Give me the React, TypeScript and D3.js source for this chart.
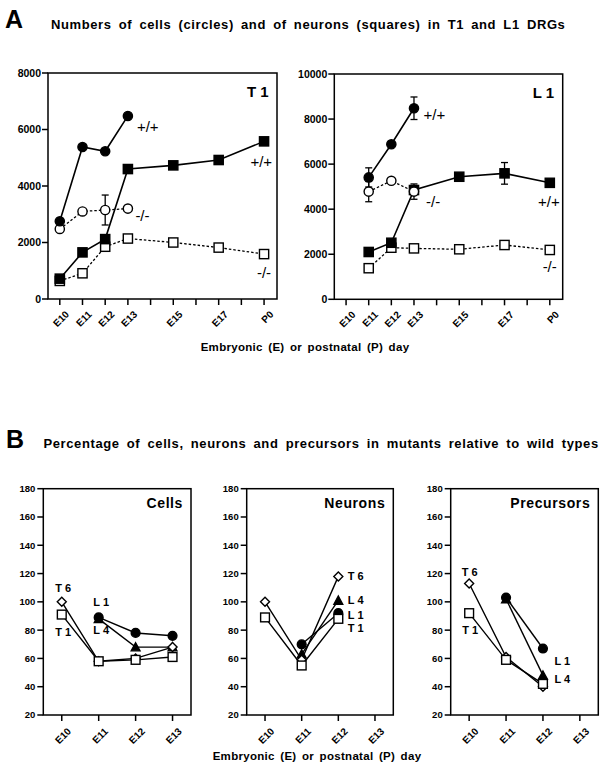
import React from "react";
import * as d3 from "d3";

const FONT = "'Liberation Sans', Arial, Helvetica, sans-serif";

// ---------- Panel A data ----------
const A_DAYS = [10, 11, 12, 13, 15, 17, 19];
const A_TICK_DAYS = [10, 11, 12, 13, 14, 15, 16, 17, 18, 19];
const A_TICK_LABELS = ["E10", "E11", "E12", "E13", "", "E15", "", "E17", "", "P0"];
const T1_Y_TICKS = [0, 2000, 4000, 6000, 8000];
const L1_Y_TICKS = [0, 2000, 4000, 6000, 8000, 10000];

const T1_CELLS_WT = [2750, 5380, 5230, 6480, null, null, null];
const T1_CELLS_KO = [2480, 3100, 3150, 3200, null, null, null];
const T1_CELLS_KO_ERR = [0, 0, 530, 0, 0, 0, 0];
const T1_NEURONS_WT = [720, 1650, 2120, 4600, 4730, 4920, 5580];
const T1_NEURONS_KO = [640, 910, 1850, 2140, 2000, 1820, 1590];

const L1_CELLS_WT = [null, 5410, 6880, 8480, null, null, null];
const L1_CELLS_WT_ERR = [0, 425, 0, 500, 0, 0, 0];
const L1_CELLS_KO = [null, 4780, 5260, 4780, null, null, null];
const L1_CELLS_KO_ERR = [0, 450, 0, 340, 0, 0, 0];
const L1_NEURONS_WT = [null, 2100, 2510, 4850, 5440, 5590, 5170];
const L1_NEURONS_WT_ERR = [0, 0, 0, 0, 0, 480, 0];
const L1_NEURONS_KO = [null, 1380, 2290, 2260, 2220, 2410, 2190];

// ---------- Panel B data ----------
const B_DAYS = [10, 11, 12, 13];
const B_TICK_LABELS = ["E10", "E11", "E12", "E13"];
const B_Y_TICKS = [20, 40, 60, 80, 100, 120, 140, 160, 180];

const CELLS_T1 = [91, 58, 59, 61];
const CELLS_T6 = [100, 58, 60, 68];
const CELLS_L1 = [null, 89, 78, 76];
const CELLS_L4 = [null, 88, 68, 68];

const NEURONS_T1 = [89, 55, 88, null];
const NEURONS_T6 = [100, 59, 118, null];
const NEURONS_L1 = [null, 70, 92, null];
const NEURONS_L4 = [null, 63, 101, null];

const PREC_T1 = [92, 59, 42, null];
const PREC_T6 = [113, 61, 40, null];
const PREC_L1 = [null, 103, 67, null];
const PREC_L4 = [null, 102, 48, null];

type Marker = "circle" | "square" | "diamond" | "triangle";

function MarkerShape({ kind, cx, cy, filled, size }: { kind: Marker; cx: number; cy: number; filled: boolean; size: number }) {
  const fill = filled ? "#000" : "#fff";
  const sw = 1.4;
  if (kind === "circle") return <circle cx={cx} cy={cy} r={size / 2} fill={fill} stroke="#000" strokeWidth={sw} />;
  if (kind === "square")
    return <rect x={cx - size / 2} y={cy - size / 2} width={size} height={size} fill={fill} stroke="#000" strokeWidth={sw} />;
  if (kind === "diamond") {
    const h = size / 2;
    return <path d={`M${cx},${cy - h}L${cx + h},${cy}L${cx},${cy + h}L${cx - h},${cy}Z`} fill={fill} stroke="#000" strokeWidth={sw} />;
  }
  const h = size / 2;
  return <path d={`M${cx},${cy - h}L${cx + h},${cy + h * 0.85}L${cx - h},${cy + h * 0.85}Z`} fill={fill} stroke="#000" strokeWidth={sw} />;
}

type SeriesA = {
  values: (number | null)[];
  err?: number[];
  marker: Marker;
  filled: boolean;
  dashed: boolean;
  label: string;
  li: number;
  ldx: number;
  ldy: number;
  anchor: "start" | "end" | "middle";
};

function PanelA({ left, right, top, bottom, yMax, yTicks, series, name }: any) {
  const x = d3.scaleLinear().domain([9.48, 19.57]).range([left, right]);
  const y = d3.scaleLinear().domain([0, yMax]).range([bottom, top]);
  const line = d3
    .line<[number, number | null]>()
    .defined((d) => d[1] != null)
    .x((d) => x(d[0]))
    .y((d) => y(d[1] as number));
  return (
    <g>
      {series.map((s: SeriesA, i: number) => (
        <path
          key={"l" + i}
          d={line(A_DAYS.map((d, j) => [d, s.values[j]]) as any) || ""}
          fill="none"
          stroke="#000"
          strokeWidth={s.dashed ? 1.3 : 1.6}
          strokeDasharray={s.dashed ? "2.5,2" : undefined}
        />
      ))}
      {series.map((s: SeriesA, i: number) =>
        (s.err || []).map((e, j) =>
          e > 0 && s.values[j] != null ? (
            <g key={"e" + i + "-" + j} stroke="#000" strokeWidth={1.3}>
              <line x1={x(A_DAYS[j])} x2={x(A_DAYS[j])} y1={y((s.values[j] as number) - e)} y2={y((s.values[j] as number) + e)} />
              <line x1={x(A_DAYS[j]) - 3.5} x2={x(A_DAYS[j]) + 3.5} y1={y((s.values[j] as number) - e)} y2={y((s.values[j] as number) - e)} />
              <line x1={x(A_DAYS[j]) - 3.5} x2={x(A_DAYS[j]) + 3.5} y1={y((s.values[j] as number) + e)} y2={y((s.values[j] as number) + e)} />
            </g>
          ) : null
        )
      )}
      {series.map((s: SeriesA, i: number) =>
        s.values.map((v, j) =>
          v == null ? null : <MarkerShape key={"m" + i + "-" + j} kind={s.marker} cx={x(A_DAYS[j])} cy={y(v)} filled={s.filled} size={9.2} />
        )
      )}
      {series.map((s: SeriesA, i: number) => (
        <text
          key={"t" + i}
          x={x(A_DAYS[s.li]) + s.ldx}
          y={y(s.values[s.li] as number) + s.ldy}
          dy="0.35em"
          textAnchor={s.anchor}
          fontSize={15}
          fontFamily={FONT}
        >
          {s.label}
        </text>
      ))}
      {/* frame */}
      <rect x={left} y={top} width={right - left} height={bottom - top} fill="none" stroke="#000" strokeWidth={1.5} />
      {yTicks.map((t: number) => (
        <g key={"y" + t}>
          <line x1={left - 6} x2={left} y1={y(t)} y2={y(t)} stroke="#000" strokeWidth={1.5} />
          <text x={left - 7} y={y(t)} dy="0.36em" textAnchor="end" fontSize={10.5} fontWeight="bold" fontFamily={FONT}>
            {t}
          </text>
        </g>
      ))}
      {A_TICK_DAYS.map((d, i) => (
        <g key={"x" + d}>
          <line x1={x(d)} x2={x(d)} y1={bottom} y2={bottom + 6} stroke="#000" strokeWidth={1.5} />
          {A_TICK_LABELS[i] ? (
            <text
              transform={`translate(${x(d) + 10},${bottom + 16}) rotate(-45)`}
              textAnchor="end"
              fontSize={10}
              fontWeight="bold"
              fontFamily={FONT}
            >
              {A_TICK_LABELS[i]}
            </text>
          ) : null}
        </g>
      ))}
      <text x={right - 30} y={top + 24} fontSize={15} fontWeight="bold" fontFamily={FONT}>
        {name}
      </text>
    </g>
  );
}

type SeriesB = {
  values: (number | null)[];
  marker: Marker;
  filled: boolean;
  label: string;
  li: number;
  ldx: number;
  ldy: number;
  anchor: "start" | "end" | "middle";
};

function PanelB({ left, right, top, bottom, series, name, order }: any) {
  const x = d3.scaleLinear().domain([9.5, 13.5]).range([left, right]);
  const y = d3.scaleLinear().domain([20, 180]).range([bottom, top]);
  const line = d3
    .line<[number, number | null]>()
    .defined((d) => d[1] != null)
    .x((d) => x(d[0]))
    .y((d) => y(d[1] as number));
  return (
    <g>
      {series.map((s: SeriesB, i: number) => (
        <path
          key={"l" + i}
          d={line(B_DAYS.map((d, j) => [d, s.values[j]]) as any) || ""}
          fill="none"
          stroke="#000"
          strokeWidth={1.4}
        />
      ))}
      {order.map((i: number) =>
        series[i].values.map((v: number | null, j: number) =>
          v == null ? null : (
            <MarkerShape
              key={"m" + i + "-" + j}
              kind={series[i].marker}
              cx={x(B_DAYS[j])}
              cy={y(v)}
              filled={series[i].filled}
              size={series[i].marker === "diamond" ? 9 : 8.8}
            />
          )
        )
      )}
      {series.map((s: SeriesB, i: number) => (
        <text
          key={"t" + i}
          x={x(B_DAYS[s.li]) + s.ldx}
          y={y(s.values[s.li] as number) + s.ldy}
          dy="0.36em"
          textAnchor={s.anchor}
          fontSize={11}
          fontWeight="bold"
          fontFamily={FONT}
        >
          {s.label}
        </text>
      ))}
      <rect x={left} y={top} width={right - left} height={bottom - top} fill="none" stroke="#000" strokeWidth={1.5} />
      {B_Y_TICKS.map((t) => (
        <g key={"y" + t}>
          <line x1={left - 6} x2={left} y1={y(t)} y2={y(t)} stroke="#000" strokeWidth={1.5} />
          <text x={left - 8} y={y(t)} dy="0.36em" textAnchor="end" fontSize={9.5} fontWeight="bold" fontFamily={FONT}>
            {t}
          </text>
        </g>
      ))}
      {B_DAYS.map((d, i) => (
        <g key={"x" + d}>
          <line x1={x(d)} x2={x(d)} y1={bottom} y2={bottom + 6} stroke="#000" strokeWidth={1.5} />
          <text
            transform={`translate(${x(d) + 10},${bottom + 17}) rotate(-45)`}
            textAnchor="end"
            fontSize={10}
            fontWeight="bold"
            fontFamily={FONT}
          >
            {B_TICK_LABELS[i]}
          </text>
        </g>
      ))}
      <text x={right - 8} y={top + 19.5} textAnchor="end" fontSize={14} fontWeight="bold" letterSpacing={0.6} fontFamily={FONT}>
        {name}
      </text>
    </g>
  );
}

export default function App() {
  const t1Series: SeriesA[] = [
    { values: T1_NEURONS_KO, marker: "square", filled: false, dashed: true, label: "-/-", li: 6, ldx: 7, ldy: 19, anchor: "end" },
    { values: T1_NEURONS_WT, marker: "square", filled: true, dashed: false, label: "+/+", li: 6, ldx: 8, ldy: 20, anchor: "end" },
    { values: T1_CELLS_KO, err: T1_CELLS_KO_ERR, marker: "circle", filled: false, dashed: true, label: "-/-", li: 3, ldx: 7.5, ldy: 7.5, anchor: "start" },
    { values: T1_CELLS_WT, marker: "circle", filled: true, dashed: false, label: "+/+", li: 3, ldx: 9, ldy: 11, anchor: "start" },
  ];
  const l1Series: SeriesA[] = [
    { values: L1_NEURONS_KO, marker: "square", filled: false, dashed: true, label: "-/-", li: 6, ldx: 7, ldy: 17, anchor: "end" },
    { values: L1_NEURONS_WT, err: L1_NEURONS_WT_ERR, marker: "square", filled: true, dashed: false, label: "+/+", li: 6, ldx: 10, ldy: 19, anchor: "end" },
    { values: L1_CELLS_KO, err: L1_CELLS_KO_ERR, marker: "circle", filled: false, dashed: true, label: "-/-", li: 3, ldx: 12, ldy: 10, anchor: "start" },
    { values: L1_CELLS_WT, err: L1_CELLS_WT_ERR, marker: "circle", filled: true, dashed: false, label: "+/+", li: 3, ldx: 9.5, ldy: 7, anchor: "start" },
  ];
  // order of series: T1, T6, L1, L4
  const cellsSeries: SeriesB[] = [
    { values: CELLS_T1, marker: "square", filled: false, label: "T 1", li: 0, ldx: 1.5, ldy: 17.5, anchor: "middle" },
    { values: CELLS_T6, marker: "diamond", filled: false, label: "T 6", li: 0, ldx: 1.5, ldy: -13.5, anchor: "middle" },
    { values: CELLS_L1, marker: "circle", filled: true, label: "L 1", li: 1, ldx: 2.5, ldy: -15, anchor: "middle" },
    { values: CELLS_L4, marker: "triangle", filled: true, label: "L 4", li: 1, ldx: 2.5, ldy: 11, anchor: "middle" },
  ];
  const neuronsSeries: SeriesB[] = [
    { values: NEURONS_T1, marker: "square", filled: false, label: "T 1", li: 2, ldx: 9.5, ldy: 9, anchor: "start" },
    { values: NEURONS_T6, marker: "diamond", filled: false, label: "T 6", li: 2, ldx: 9.5, ldy: 0, anchor: "start" },
    { values: NEURONS_L1, marker: "circle", filled: true, label: "L 1", li: 2, ldx: 9.5, ldy: 2, anchor: "start" },
    { values: NEURONS_L4, marker: "triangle", filled: true, label: "L 4", li: 2, ldx: 9.5, ldy: 0, anchor: "start" },
  ];
  const precSeries: SeriesB[] = [
    { values: PREC_T1, marker: "square", filled: false, label: "T 1", li: 0, ldx: 1, ldy: 16.5, anchor: "middle" },
    { values: PREC_T6, marker: "diamond", filled: false, label: "T 6", li: 0, ldx: 0.5, ldy: -11, anchor: "middle" },
    { values: PREC_L1, marker: "circle", filled: true, label: "L 1", li: 2, ldx: 11.5, ldy: 12.5, anchor: "start" },
    { values: PREC_L4, marker: "triangle", filled: true, label: "L 4", li: 2, ldx: 11.5, ldy: 3.5, anchor: "start" },
  ];
  const drawOrder = [3, 2, 1, 0];

  return (
    <svg width={608} height={772} style={{ position: "absolute", left: 0, top: 0, background: "#fff" }}>
      <rect width={608} height={772} fill="#fff" />
      <text x={5} y={28} fontSize={25} fontWeight="bold" fontFamily={FONT}>
        A
      </text>
      <text x={51} y={28.5} fontSize={13} fontWeight="bold" letterSpacing={0.6} wordSpacing={3} fontFamily={FONT}>
        Numbers of cells (circles) and of neurons (squares) in T1 and L1 DRGs
      </text>
      <PanelA left={48} right={277} top={73} bottom={299} yMax={8000} yTicks={T1_Y_TICKS} series={t1Series} name="T 1" />
      <PanelA left={334.3} right={562.7} top={74} bottom={299.3} yMax={10000} yTicks={L1_Y_TICKS} series={l1Series} name="L 1" />
      <text x={305} y={351} textAnchor="middle" fontSize={11.5} fontWeight="bold" letterSpacing={0.3} wordSpacing={2} fontFamily={FONT}>
        Embryonic (E) or postnatal (P) day
      </text>

      <text x={6} y={448} fontSize={25} fontWeight="bold" fontFamily={FONT}>
        B
      </text>
      <text x={43.5} y={448} fontSize={13} fontWeight="bold" letterSpacing={0.6} wordSpacing={3} fontFamily={FONT}>
        Percentage of cells, neurons and precursors in mutants relative to wild types
      </text>
      <PanelB left={43.3} right={191} top={488.7} bottom={715} series={cellsSeries} name="Cells" order={drawOrder} />
      <PanelB left={246.7} right={393.3} top={488.7} bottom={715} series={neuronsSeries} name="Neurons" order={drawOrder} />
      <PanelB left={450.7} right={598.3} top={488.7} bottom={715} series={precSeries} name="Precursors" order={drawOrder} />
      <text x={317} y={760} textAnchor="middle" fontSize={11.5} fontWeight="bold" letterSpacing={0.3} wordSpacing={2} fontFamily={FONT}>
        Embryonic (E) or postnatal (P) day
      </text>
    </svg>
  );
}
